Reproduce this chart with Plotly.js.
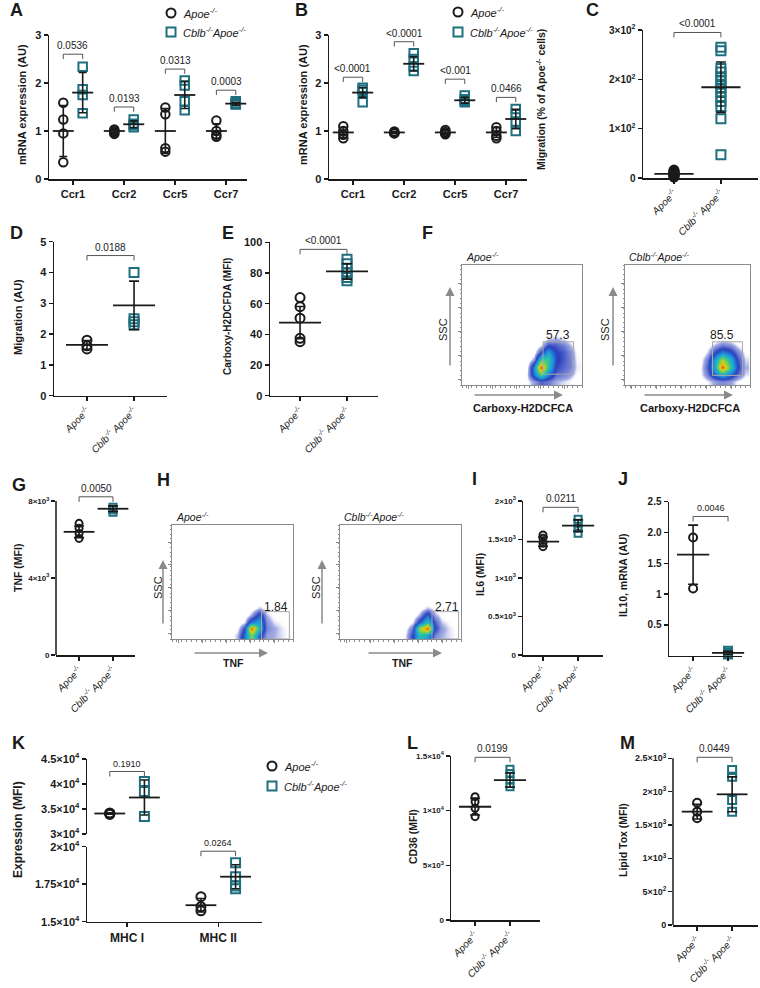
<!DOCTYPE html>
<html><head><meta charset="utf-8">
<script src="https://cdn.plot.ly/plotly-3.0.1.min.js"></script>
<style>html,body{margin:0;padding:0;background:#fff}#chart{width:760px;height:988px}</style>
</head><body><div id="chart"></div>
<script>
// ================= DATA =================
const ccrGenes = ['Ccr1','Ccr2','Ccr5','Ccr7'];
const groupLabels = ['<i>Apoe<sup>-/-</sup></i>','<i>Cblb<sup>-/-</sup> Apoe<sup>-/-</sup></i>'];
const mhcLabels = ['MHC I','MHC II'];

// Panel A: mRNA expression, Ccr genes (per gene: points)
const A_apoePts = [[1.59,1.24,0.95,0.35],[1.03,1.0,0.97,0.94],[1.49,1.35,0.64,0.57],[1.22,1.0,0.92,0.88]];
const A_cblbPts = [[2.34,1.87,1.75,1.37],[1.24,1.15,1.12,1.08],[2.05,1.95,1.62,1.43],[1.62,1.58,1.56,1.55]];
const A_apoeMean = [1.0,1.0,1.0,1.0];
const A_apoeSD   = [0.53,0.04,0.47,0.15];
const A_cblbMean = [1.8,1.14,1.75,1.57];
const A_cblbSD   = [0.42,0.07,0.28,0.03];
const A_pvals    = ['0.0536','0.0193','0.0313','0.0003'];
const A_brY      = [2.6,1.5,2.29,1.85];

// Panel B
const B_apoePts = [[1.1,1.0,0.92,0.85],[0.99,0.97,0.95,0.96],[1.02,0.98,0.95,0.93],[1.08,1.0,0.9,0.85]];
const B_cblbPts = [[1.9,1.86,1.82,1.6],[2.62,2.5,2.35,2.25],[1.74,1.66,1.63,1.6],[1.46,1.35,1.2,1.0]];
const B_apoeMean = [0.97,0.97,0.97,0.97];
const B_apoeSD   = [0.1,0.02,0.04,0.1];
const B_cblbMean = [1.8,2.4,1.64,1.25];
const B_cblbSD   = [0.1,0.15,0.06,0.2];
const B_pvals    = ['<0.0001','<0.0001','<0.001','0.0466'];
const B_brY      = [2.12,2.86,2.08,1.7];

// Panel C: migration (% of Apoe-/- cells)
const C_apoe = [2,4,5,6,7,8,9,10,11,12,14,16];
const C_cblb = [265,258,222,215,205,198,190,182,175,165,155,145,120,47];
const C_stats = [8.5,5,184,51];   // apoe mean, sd, cblb mean, sd
const C_p = '<0.0001', C_brY = 295;

// Panel D: migration (AU)
const D_apoe = [1.8,1.62,1.52];
const D_cblb = [4.0,2.5,2.4,2.3];
const D_stats = [1.65,0.14,2.93,0.79];
const D_p = '0.0188', D_brY = 4.55;

// Panel E: Carboxy-H2DCFDA (MFI)
const E_apoe = [64,58,50.5,37.4,35.2];
const E_cblb = [89,86,83,80,77,75];
const E_stats = [47.6,10.5,81,5];
const E_p = '<0.0001', E_brY = 95.4;

// Panel G: TNF (MFI)
const G_apoe = [6840,6580,6320,6060];
const G_cblb = [7680,7550,7420];
const G_stats = [6400,300,7600,150];
const G_p = '0.0050', G_brY = 8220;

// Panel I: IL6 (MFI)
const I_apoe = [1558,1515,1450,1407];
const I_cblb = [1762,1710,1645,1580];
const I_stats = [1472,60,1680,75];
const I_p = '0.0211', I_brY = 1918;

// Panel J: IL10 mRNA (AU)
const J_apoe = [1.92,1.09];
const J_cblb = [0.08,0.05,0.03,0.02];
const J_stats = [1.64,0.48,0.045,0.025];
const J_p = '0.0046', J_brY = 2.26;

// Panel K: Expression (MFI), MHC I / MHC II
const K_apoePts = [[34200,34100,34000,33950],[16670,16000,15730]];
const K_cblbPts = [[40500,38500,33500],[18930,18000,17380,17200]];
const K_apoeMean = [34100,16100];
const K_apoeSD   = [150,450];
const K_cblbMean = [37300,18000];
const K_cblbSD   = [3500,800];
const K_pvals    = ['0.1910','0.0264'];
const K_brY      = [42500,19700];

// Panel L: CD36 (MFI)
const L_apoe = [11280,10820,10220,9450];
const L_cblb = [13780,13410,12800,12190];
const L_stats = [10360,760,12800,650];
const L_p = '0.0199', L_brY = 14880;

// Panel M: Lipid Tox (MFI)
const M_apoe = [1834,1700,1600];
const M_cblb = [2325,2224,1875,1700];
const M_stats = [1700,110,1960,262];
const M_p = '0.0449', M_brY = 2515;

// Flow cytometry pseudo-colour density grids (relative axes 0..1)
const flowX = [0.48,0.54,0.60,0.66,0.72,0.78,0.84,0.90,0.96];
const flowY = [0.03,0.09,0.15,0.21,0.27,0.33,0.39,0.45];
const F_apoeZ = [
 [0,0.05,0.12,0.2,0.17,0.1,0.08,0.06,0],
 [0,0.07,0.35,0.65,0.38,0.2,0.17,0.12,0.05],
 [0,0.04,0.4,1.0,0.55,0.24,0.2,0.16,0.07],
 [0,0,0.12,0.6,0.6,0.27,0.22,0.16,0.06],
 [0,0,0.03,0.25,0.45,0.26,0.22,0.15,0.05],
 [0,0,0,0.07,0.24,0.21,0.17,0.1,0.03],
 [0,0,0,0,0.07,0.1,0.07,0.03,0],
 [0,0,0,0,0,0,0,0,0]];
const F_cblbZ = [
 [0,0,0.02,0.06,0.12,0.15,0.12,0.06,0.02],
 [0,0,0.05,0.16,0.35,0.5,0.35,0.2,0.08],
 [0,0,0.05,0.2,0.5,1.0,0.6,0.27,0.1],
 [0,0,0.03,0.16,0.45,0.75,0.5,0.24,0.08],
 [0,0,0,0.08,0.25,0.38,0.3,0.16,0.05],
 [0,0,0,0.03,0.11,0.17,0.14,0.07,0],
 [0,0,0,0,0,0.04,0.03,0,0],
 [0,0,0,0,0,0,0,0,0]];
const H_apoeZ = [
 [0.03,0.1,0.35,0.7,0.3,0.12,0.1,0.08,0.05],
 [0,0.05,0.25,1.0,0.5,0.16,0.11,0.08,0.05],
 [0,0,0.07,0.38,0.45,0.14,0.08,0.06,0.02],
 [0,0,0,0.12,0.32,0.1,0.05,0.02,0],
 [0,0,0,0.02,0.1,0.04,0,0,0],
 [0,0,0,0,0,0,0,0,0],
 [0,0,0,0,0,0,0,0,0],
 [0,0,0,0,0,0,0,0,0]];
const H_cblbZ = [
 [0.03,0.07,0.25,0.55,0.45,0.16,0.1,0.08,0.05],
 [0,0.04,0.18,0.75,1.0,0.27,0.12,0.08,0.05],
 [0,0,0.06,0.3,0.55,0.22,0.09,0.06,0.02],
 [0,0,0,0.11,0.34,0.12,0.05,0.02,0],
 [0,0,0,0.02,0.1,0.05,0,0,0],
 [0,0,0,0,0,0,0,0,0],
 [0,0,0,0,0,0,0,0,0],
 [0,0,0,0,0,0,0,0,0]];
const flowPct = ['57.3','85.5','1.84','2.71'];
const F_gates = [[0.675,0.93,0.09,0.36],[0.70,0.94,0.08,0.36]];
const H_gates = [[0.74,0.97,0.0,0.24],[0.76,0.98,0.0,0.24]];

// ================= DRAWING =================
const W=760,H=988;
const FONT='"Liberation Sans", Arial, sans-serif';
const TEAL='#1f6f7e', BLACK='#1a1a1a', GRAY='#8a8a8a';
const OFF=0.19;
const traces=[], annotations=[], shapes=[];
const xd=(a,b)=>[a/W,b/W];
const yd=(t,b)=>[1-b/H,1-t/H];
const px=x=>x/W, py=y=>1-y/H;

function pts(xa,ya,xs,ys,sym,color,size){
  traces.push({type:'scatter',mode:'markers',x:xs,y:ys,xaxis:xa,yaxis:ya,
    marker:{symbol:sym,size:size,color:color,line:{color:color,width:2}},
    hoverinfo:'skip',showlegend:false,cliponaxis:false});
}
function meanSD(xa,ya,xs,means,sds,w,cap){
  traces.push({type:'scatter',mode:'markers',x:xs,y:means,xaxis:xa,yaxis:ya,
    marker:{symbol:'line-ew',size:w,color:BLACK,line:{color:BLACK,width:1.8}},
    error_y:{type:'data',array:sds,visible:true,color:BLACK,thickness:1.6,width:cap},
    hoverinfo:'skip',showlegend:false,cliponaxis:false});
}
function bracket(xa,ya,x0,x1,y,d,label,fs){
  traces.push({type:'scatter',mode:'lines',x:[x0,x0,x1,x1],y:[y-d,y,y,y-d],xaxis:xa,yaxis:ya,
    line:{color:'#555',width:1},hoverinfo:'skip',showlegend:false,cliponaxis:false});
  annotations.push({xref:xa,yref:ya,x:(x0+x1)/2,y:y,text:label,showarrow:false,yanchor:'bottom',yshift:1,
    font:{family:FONT,size:fs||10,color:'#222'}});
}
function multiCat(xa,ya,apoe,cblb,am,asd,cm,csd,pv,bry,d,size,mw,pfs){
  const xa0=[],ya0=[],xc=[],yc=[];
  apoe.forEach((arr,i)=>arr.forEach(v=>{xa0.push(i-OFF);ya0.push(v);}));
  cblb.forEach((arr,i)=>arr.forEach(v=>{xc.push(i+OFF);yc.push(v);}));
  pts(xa,ya,xa0,ya0,'circle-open',BLACK,size);
  pts(xa,ya,xc,yc,'square-open',TEAL,size);
  meanSD(xa,ya,am.map((_,i)=>i-OFF),am,asd,mw,4);
  meanSD(xa,ya,cm.map((_,i)=>i+OFF),cm,csd,mw,4);
  pv.forEach((p,i)=>bracket(xa,ya,i-OFF,i+OFF,bry[i],d,p,pfs));
}
function twoGroup(xa,ya,apoe,cblb,st,p,bry,d,size,mw,pfs){
  pts(xa,ya,apoe.map(()=>0),apoe,'circle-open',BLACK,size);
  pts(xa,ya,cblb.map(()=>1),cblb,'square-open',TEAL,size);
  meanSD(xa,ya,[0],[st[0]],[st[1]],mw,5);
  meanSD(xa,ya,[1],[st[2]],[st[3]],mw,5);
  bracket(xa,ya,0,1,bry,d,p,pfs);
}

// --- Panels A & B
multiCat('x','y',A_apoePts,A_cblbPts,A_apoeMean,A_apoeSD,A_cblbMean,A_cblbSD,A_pvals,A_brY,0.1,8.5,15,10);
multiCat('x2','y2',B_apoePts,B_cblbPts,B_apoeMean,B_apoeSD,B_cblbMean,B_cblbSD,B_pvals,B_brY,0.1,8.5,15,10);
// --- two-group panels
twoGroup('x3','y3',C_apoe,C_cblb,C_stats,C_p,C_brY,10,9,28,10);
twoGroup('x4','y4',D_apoe,D_cblb,D_stats,D_p,D_brY,0.16,9,30,10);
twoGroup('x5','y5',E_apoe,E_cblb,E_stats,E_p,E_brY,3.3,9,30,10);
twoGroup('x8','y8',G_apoe,G_cblb,G_stats,G_p,G_brY,260,7,22,10);
twoGroup('x11','y11',I_apoe,I_cblb,I_stats,I_p,I_brY,65,7,23,10);
twoGroup('x12','y12',J_apoe,J_cblb,J_stats,J_p,J_brY,0.08,8,23,9);
twoGroup('x15','y15',L_apoe,L_cblb,L_stats,L_p,L_brY,457,7,23,10);
twoGroup('x16','y16',M_apoe,M_cblb,M_stats,M_p,M_brY,75,8,22,10);
// --- Panel K (broken axis: upper y14 for MHC I, lower y13 for MHC II)
[['y14',0],['y13',1]].forEach(([ya,i])=>{
  pts('x13',ya,K_apoePts[i].map(()=>i-OFF),K_apoePts[i],'circle-open',BLACK,9);
  pts('x13',ya,K_cblbPts[i].map(()=>i+OFF),K_cblbPts[i],'square-open',TEAL,9);
  meanSD('x13',ya,[i-OFF],[K_apoeMean[i]],[K_apoeSD[i]],22,4);
  meanSD('x13',ya,[i+OFF],[K_cblbMean[i]],[K_cblbSD[i]],22,4);
  bracket('x13',ya,i-OFF,i+OFF,K_brY[i],i===0?1000:333,K_pvals[i],9);
});

// --- Flow plots
const FLOWCS=[[0,'rgba(255,255,255,0)'],[0.045,'rgba(255,255,255,0)'],[0.1,'rgba(50,70,195,0.45)'],
  [0.25,'#2a40bd'],[0.42,'#1e9ae0'],[0.58,'#2cc4a4'],[0.74,'#a5d52a'],[0.88,'#f5c20d'],[1,'#e3261a']];
[['x6','y6',F_apoeZ],['x7','y7',F_cblbZ],['x9','y9',H_apoeZ],['x10','y10',H_cblbZ]].forEach(([xa,ya,z])=>{
  traces.push({type:'heatmap',x:flowX,y:flowY,z:z,xaxis:xa,yaxis:ya,colorscale:FLOWCS,zmin:0,zmax:1,
    zsmooth:'best',showscale:false,hoverinfo:'skip'});
});
[['x6','y6',F_gates[0]],['x7','y7',F_gates[1]],['x9','y9',H_gates[0]],['x10','y10',H_gates[1]]].forEach(([xa,ya,g])=>{
  shapes.push({type:'rect',xref:xa,yref:ya,x0:g[0],x1:g[1],y0:g[2],y1:g[3],line:{color:'#a8a8a8',width:1}});
});

// ================= AXES =================
const tf=(s,b)=>({family:FONT,size:s,color:BLACK,weight:b===false?'normal':'bold'});
function xAx(a,b,range,anchor,tv,tt,fs,extra){
  return Object.assign({domain:xd(a,b),range,anchor,showline:true,linecolor:BLACK,linewidth:1.5,
    ticks:'outside',ticklen:4,tickwidth:1.5,tickcolor:BLACK,tickvals:tv,ticktext:tt,tickfont:tf(fs),
    showgrid:false,zeroline:false,fixedrange:true},extra||{});
}
function yAx(t,b,range,anchor,tv,tt,fs,extra){
  return Object.assign({domain:yd(t,b),range,anchor,showline:true,linecolor:BLACK,linewidth:1.5,
    ticks:'outside',ticklen:4,tickwidth:1.5,tickcolor:BLACK,tickvals:tv,ticktext:tt,tickfont:tf(fs),
    showgrid:false,zeroline:false,fixedrange:true},extra||{});
}
const rot={tickangle:-45,tickfont:{family:FONT,size:10,color:BLACK}};
const two=[0,1];
function flowAx(a,b,anchor,isY){
  const dom=isY?yd(a,b):xd(a,b);
  return {domain:dom,range:[0,1],anchor,showline:true,mirror:true,linecolor:'#8c8c8c',linewidth:1,
    ticks:'outside',ticklen:3,tickcolor:'#8c8c8c',dtick:0.2,tick0:0.05,showticklabels:false,
    minor:{ticks:'outside',ticklen:1.5,dtick:0.04,tickcolor:'#8c8c8c'},
    showgrid:false,zeroline:false,fixedrange:true};
}
const sup=(m,e)=>m+'×10<sup>'+e+'</sup>';
// axis line drawn only up to the top tick where the range is extended for the bracket
function axisLine(xa,ya,top){
  shapes.push({type:'line',xref:xa+' domain',yref:ya,x0:0,x1:0,y0:0,y1:top,line:{color:BLACK,width:1.5}});
}

const layout={
  width:W,height:H,margin:{l:0,r:0,t:0,b:0},paper_bgcolor:'#fff',plot_bgcolor:'rgba(0,0,0,0)',
  showlegend:false,font:{family:FONT,color:BLACK},
  xaxis: xAx(49,247,[-0.47,3.41],'y',[0,1,2,3],ccrGenes,11),
  yaxis: yAx(35,179,[0,3],'x',[0,1,2,3],['0','1','2','3'],11),
  xaxis2:xAx(329,527,[-0.47,3.41],'y2',[0,1,2,3],ccrGenes,11),
  yaxis2:yAx(35,179,[0,3],'x2',[0,1,2,3],['0','1','2','3'],11),
  xaxis3:xAx(643,758,[-0.66,1.79],'y3',two,groupLabels,10,rot),
  yaxis3:yAx(30,178,[0,300],'x3',[0,100,200,300],['0',sup('1',2),sup('2',2),sup('3',2)],10),
  xaxis4:xAx(54,167,[-0.70,1.70],'y4',two,groupLabels,10,rot),
  yaxis4:yAx(241.7,395.7,[0,5],'x4',[0,1,2,3,4,5],['0','1','2','3','4','5'],11),
  xaxis5:xAx(270,378,[-0.64,1.66],'y5',two,groupLabels,10,rot),
  yaxis5:yAx(242.3,395.7,[0,100],'x5',[0,20,40,60,80,100],['0','20','40','60','80','100'],11),
  xaxis6:flowAx(462,582,'y6',false), yaxis6:flowAx(265,385,'x6',true),
  xaxis7:flowAx(625,750,'y7',false), yaxis7:flowAx(265,385,'x7',true),
  xaxis8:xAx(56,135,[-0.68,1.65],'y8',two,groupLabels,10,rot),
  yaxis8:yAx(489.5,655,[0,8600],'x8',[0,4000,8000],['0',sup('4',3),sup('8',3)],8,{showline:false}),
  xaxis9:flowAx(172,293,'y9',false), yaxis9:flowAx(525,639,'x9',true),
  xaxis10:flowAx(340,461,'y10',false), yaxis10:flowAx(525,639,'x10',true),
  xaxis11:xAx(523,603,[-0.57,1.71],'y11',two,groupLabels,10,rot),
  yaxis11:yAx(501,655,[0,2000],'x11',[0,500,1000,1500,2000],['0',sup('0.5',3),sup('1',3),sup('1.5',3),sup('2',3)],8),
  xaxis12:xAx(669,742,[-0.69,1.4],'y12',two,groupLabels,10,rot),
  yaxis12:yAx(501.7,655.7,[0,2.5],'x12',[0.5,1,1.5,2,2.5],['0.5','1','1.5','2.0','2.5'],10),
  xaxis13:xAx(87,262,[-0.44,1.48],'y13',[0,1],mhcLabels,12),
  yaxis13:yAx(846.7,921.7,[15000,20000],'x13',[15000,17500,20000],[sup('1.5',4),sup('1.75',4),sup('2',4)],11),
  yaxis14:yAx(759,834,[30000,45000],'x13',[30000,35000,40000,45000],[sup('3',4),sup('3.5',4),sup('4',4),sup('4.5',4)],11),
  xaxis15:xAx(451,540,[-0.69,1.86],'y15',two,groupLabels,10,rot),
  yaxis15:yAx(756,920,[0,15000],'x15',[0,5000,10000,15000],['0',sup('5',3),sup('1',4),sup('1.5',4)],8),
  xaxis16:xAx(673,758,[-0.69,1.74],'y16',two,groupLabels,10,rot),
  yaxis16:yAx(748.3,925,[0,2650],'x16',[0,500,1000,1500,2000,2500],['0',sup('5',2),sup('1',3),sup('1.5',3),sup('2',3),sup('2.5',3)],9,{showline:false}),
  annotations, shapes
};
axisLine('x8','y8',8000);
axisLine('x16','y16',2500);

// ---- text annotations (panel letters, axis titles, flow labels, legends)
function txt(x,y,t,size,opt){
  annotations.push(Object.assign({xref:'paper',yref:'paper',x:px(x),y:py(y),text:t,showarrow:false,
    xanchor:'center',yanchor:'middle',font:{family:FONT,size:size,color:BLACK}},opt||{}));
}
[['A',8,10],['B',293,10],['C',584,10],['D',8,233],['E',220,233],['F',420,233],['G',10,485],['H',155,480],
 ['I',470,479],['J',616,479],['K',10,743],['L',405,743],['M',618,743]].forEach(([l,x,y])=>
  txt(x,y,'<b>'+l+'</b>',18,{xanchor:'left'}));
const ytitle=(x,y,t,s)=>txt(x,y,'<b>'+t+'</b>',s,{textangle:-90});
ytitle(22,105,'mRNA expression (AU)',11);
ytitle(303,105,'mRNA expression (AU)',11);
ytitle(541,100,'Migration (% of Apoe<sup>-/-</sup> cells)',10.5);
ytitle(18,317,'Migration (AU)',11);
ytitle(228,317,'Carboxy-H2DCFDA (MFI)',10);
ytitle(18,568,'TNF (MFI)',10.5);
ytitle(480,575,'IL6 (MFI)',10.5);
ytitle(623,575,'IL10, mRNA (AU)',10.5);
ytitle(18,830,'Expression (MFI)',12);
ytitle(413,837,'CD36 (MFI)',10.5);
ytitle(623,840,'Lipid Tox (MFI)',10.5);

// flow titles, numbers, axis labels, arrows
const APOE_T='<i>Apoe<sup>-/-</sup></i>', CBLB_T='<i>Cblb<sup>-/-</sup>Apoe<sup>-/-</sup></i>';
txt(464,256,APOE_T,10.5,{xanchor:'left'});
txt(627,256,CBLB_T,10.5,{xanchor:'left'});
txt(558,335,flowPct[0],12); txt(722,335,flowPct[1],12);
txt(174,516,APOE_T,10.5,{xanchor:'left'});
txt(342,516,CBLB_T,10.5,{xanchor:'left'});
txt(276,607,flowPct[2],12); txt(447,607,flowPct[3],12);
[[443,330],[605,330],[158,588],[316,588]].forEach(([x,y])=>txt(x,y,'SSC',11,{textangle:-90}));
txt(523,408,'<b>Carboxy-H2DCFCA</b>',11); txt(690,408,'<b>Carboxy-H2DCFCA</b>',11);
txt(233,663,'<b>TNF</b>',10.5); txt(402,663,'<b>TNF</b>',10.5);
function arrow(x1,y1,x0,y0){
  annotations.push({xref:'paper',yref:'paper',x:px(x1),y:py(y1),ax:x0-x1,ay:y0-y1,text:'',showarrow:true,
    arrowhead:2,arrowsize:1.2,arrowwidth:1.5,arrowcolor:GRAY});
}
arrow(450,287,450,367); arrow(563,395,473,395);
arrow(613,287,613,367); arrow(733,395,643,395);
arrow(163,560,163,625); arrow(268,653,193,653);
arrow(322,560,322,625); arrow(442,653,367,653);

// legends
function legend(x,y1,y2){
  shapes.push({type:'circle',xref:'paper',yref:'paper',x0:px(x-4.5),x1:px(x+4.5),y0:py(y1+4.5),y1:py(y1-4.5),line:{color:BLACK,width:2}});
  shapes.push({type:'rect',xref:'paper',yref:'paper',x0:px(x-4.5),x1:px(x+4.5),y0:py(y2+4.5),y1:py(y2-4.5),line:{color:TEAL,width:2}});
  txt(x+10,y1,APOE_T,11,{xanchor:'left'});
  txt(x+10,y2,CBLB_T,11,{xanchor:'left'});
}
legend(171,13,32);
legend(458,12,32);
legend(272,766,786);

Plotly.newPlot('chart',traces,layout,{displayModeBar:false,staticPlot:true});
</script></body></html>
